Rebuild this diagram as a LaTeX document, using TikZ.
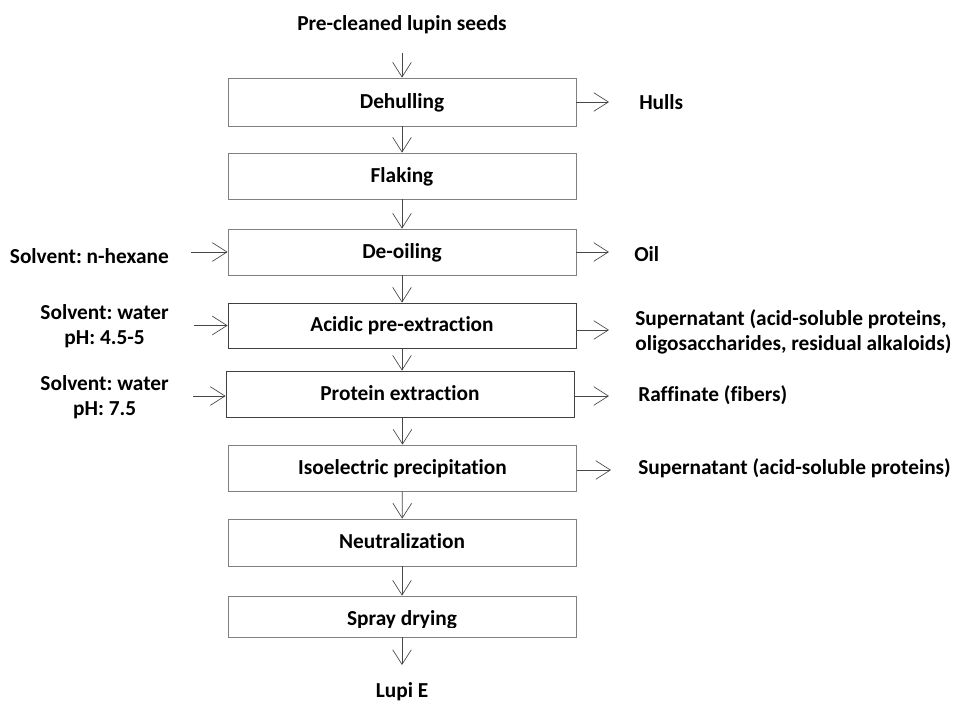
\documentclass[tikz,border=0pt]{standalone}
\usepackage{fontspec}
\setmainfont{Carlito}[Ligatures={NoCommon}]
\usetikzlibrary{arrows.meta}
\frenchspacing
\begin{document}
\begin{tikzpicture}[x=0.75pt,y=-0.75pt,
  every node/.style={font=\bfseries\fontsize{16}{19}\selectfont, text=black, inner sep=0pt,
    text height=1.1em, text depth=0.2em},
  proc/.style={draw=black!50, line width=0.6pt, minimum width=261pt, minimum height=#1},
  proc/.default=34.5pt,
  flow/.style={draw=black!72, line width=0.55pt, -{Straight Barb[length=11pt,width=14pt,line width=0.5pt]}},
  inlabel/.style={anchor=east, align=center},
  outlabel/.style={anchor=west, align=left},
  twoline/.style={text height=, text depth=},
]
\useasboundingbox (0,0) rectangle (955,704);

% process boxes
\node[proc=36pt] (b1) at (402,102) {Dehulling};
\node[proc] (b2) at (402,176) {Flaking};
\node[proc] (b3) at (402,252) {De-oiling};
\node[proc=33.75pt, draw=black!75] (b4) at (402,325.5) {Acidic pre-extraction};
\node[proc, draw=black!75] (b5) at (400,394) {Protein extraction};
\node[proc] (b6) at (402.5,468) {Isoelectric precipitation};
\node[proc=35.25pt] (b7) at (402,542.5) {Neutralization};
\node[proc=30.75pt] (b8) at (402,616.5) {};
\begin{scope}
  \clip (228,596) rectangle (576,627.5);
  \node[anchor=base, twoline] (t8) at (402,625.5) {Spray drying};
\end{scope}

% input / output of the main line
\node (src) at (402,24) {Pre-cleaned lupin seeds};
\coordinate (s0) at (402,53);
\draw[flow] (s0) -- (b1);
\draw[flow] (b1) -- (b2);
\draw[flow] (b2) -- (b3);
\draw[flow] (b3) -- (b4);
\draw[flow] (b4.south) -- (b4.south |- b5.north);
\draw[flow] (b5.south -| b6.north) -- (b6.north);
\draw[flow] (b6) -- (b7);
\draw[flow] (b7) -- (b8);
\coordinate (e) at (402,665);
\draw[flow] (b8) -- (e);
\node (out) at (402,691) {Lupi E};

% side inputs
\node[inlabel] (in3) at (169,257) {Solvent: n-hexane};
\coordinate (c3) at (191,252);
\draw[flow] (c3) -- (b3);
\node[inlabel, twoline] (in4) at (169,326) {Solvent: water\\pH: 4.5-5};
\coordinate (c4) at (194,325.5);
\draw[flow] (c4) -- (b4);
\node[inlabel, twoline] (in5) at (169,397) {Solvent: water\\pH: 7.5};
\coordinate (c5) at (193,396);
\draw[flow] (c5) -- (b5.west |- c5);

% side outputs
\coordinate (o1) at (609,102);
\draw[flow] (b1) -- (o1);
\node[outlabel] (l1) at (639,103) {Hulls};
\coordinate (o3) at (609,252);
\draw[flow] (b3) -- (o3);
\node[outlabel] (l3) at (634,255) {Oil};
\coordinate (o4) at (609,330);
\draw[flow] (b4.east |- o4) -- (o4);
\node[outlabel, twoline] (l4) at (635,332) {Supernatant (acid-soluble proteins,\\oligosaccharides, residual alkaloids)};
\coordinate (o5) at (609,396);
\draw[flow] (b5.east |- o5) -- (o5);
\node[outlabel] (l5) at (638,395) {Raffinate (fibers)};
\coordinate (o6) at (611,470);
\draw[flow] (b6.east |- o6) -- (o6);
\node[outlabel] (l6) at (638,468) {Supernatant (acid-soluble proteins)};
\end{tikzpicture}
\end{document}
